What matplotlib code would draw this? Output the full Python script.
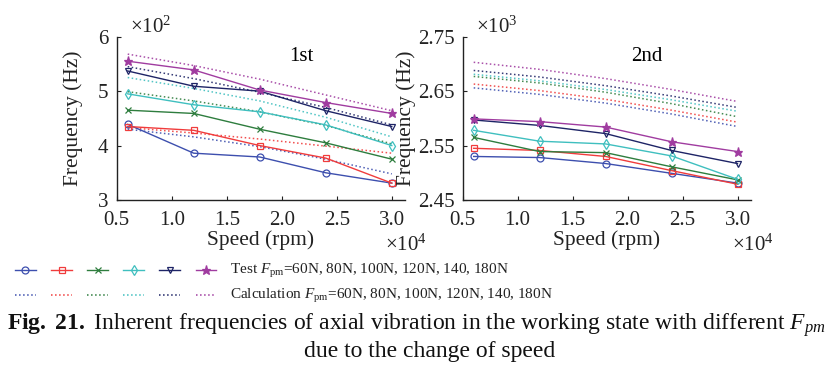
import matplotlib
matplotlib.use("Agg")
import matplotlib.pyplot as plt
from matplotlib.lines import Line2D

plt.rcParams['font.family'] = ['Liberation Serif', 'DejaVu Serif']
plt.rcParams['mathtext.fontset'] = 'custom'
plt.rcParams['mathtext.rm'] = 'Liberation Serif'
plt.rcParams['mathtext.it'] = 'Liberation Serif:italic'
plt.rcParams['mathtext.bf'] = 'Liberation Serif:bold'

# ---------------- data ----------------
speed = [0.6, 1.2, 1.8, 2.4, 3.0]          # x 10^4 rpm
forces = ['60N', '80N', '100N', '120N', '140', '180N']

# 1st frequency (x 10^2 Hz)
first_test_60 = [4.39, 3.86, 3.79, 3.50, 3.31]
first_test_80 = [4.35, 4.28, 4.00, 3.77, 3.31]
first_test_100 = [4.65, 4.59, 4.30, 4.05, 3.75]
first_test_120 = [4.95, 4.75, 4.62, 4.38, 4.00]
first_test_140 = [5.37, 5.09, 5.00, 4.64, 4.35]
first_test_180 = [5.55, 5.39, 5.02, 4.79, 4.59]

first_calc_60 = [4.30, 4.16, 3.98, 3.75, 3.48]
first_calc_80 = [4.33, 4.23, 4.12, 3.99, 3.86]
first_calc_100 = [4.99, 4.82, 4.62, 4.37, 4.03]
first_calc_120 = [5.25, 5.05, 4.82, 4.52, 4.16]
first_calc_140 = [5.45, 5.23, 4.98, 4.70, 4.38]
first_calc_180 = [5.68, 5.47, 5.22, 4.93, 4.64]

# 2nd frequency (x 10^3 Hz)
second_test_60 = [2.530, 2.528, 2.517, 2.499, 2.481]
second_test_80 = [2.545, 2.541, 2.530, 2.504, 2.479]
second_test_100 = [2.565, 2.539, 2.537, 2.511, 2.487]
second_test_120 = [2.578, 2.558, 2.553, 2.531, 2.488]
second_test_140 = [2.597, 2.587, 2.572, 2.541, 2.517]
second_test_180 = [2.599, 2.594, 2.584, 2.557, 2.539]

second_calc_60 = [2.656, 2.644, 2.628, 2.608, 2.585]
second_calc_80 = [2.663, 2.651, 2.635, 2.615, 2.593]
second_calc_100 = [2.677, 2.665, 2.648, 2.627, 2.603]
second_calc_120 = [2.681, 2.669, 2.653, 2.634, 2.613]
second_calc_140 = [2.688, 2.676, 2.660, 2.641, 2.620]
second_calc_180 = [2.703, 2.690, 2.673, 2.653, 2.631]

x_ticks = [0.5, 1.0, 1.5, 2.0, 2.5, 3.0]
x_ticklabels = ['0.5', '1.0', '1.5', '2.0', '2.5', '3.0']
y1_ticks = [3, 4, 5, 6]
y1_ticklabels = ['3', '4', '5', '6']
y2_ticks = [2.45, 2.55, 2.65, 2.75]
y2_ticklabels = ['2.45', '2.55', '2.65', '2.75']

colors = ['#3d4fae', '#f03c3c', '#2e7d3e', '#3fbfbf', '#1e2466', '#a03ca0']
markers = ['o', 's', 'x', 'd', 'v', '*']

first_test = [first_test_60, first_test_80, first_test_100, first_test_120, first_test_140, first_test_180]
first_calc = [first_calc_60, first_calc_80, first_calc_100, first_calc_120, first_calc_140, first_calc_180]
second_test = [second_test_60, second_test_80, second_test_100, second_test_120, second_test_140, second_test_180]
second_calc = [second_calc_60, second_calc_80, second_calc_100, second_calc_120, second_calc_140, second_calc_180]

W, H = 833, 373
fig = plt.figure(figsize=(W / 100, H / 100), dpi=100)


def px_axes(x0, x1, ytop, ybot):
    return fig.add_axes([x0 / W, 1 - ybot / H, (x1 - x0) / W, (ybot - ytop) / H])


ax1 = px_axes(116.7, 405, 36.7, 200)
ax2 = px_axes(462.7, 750.7, 36.7, 200)


def msize(m):
    return 6.5 if m == '*' else 5


def draw(ax, tests, calcs):
    for c, col in zip(calcs, colors):
        ax.plot(speed, c, linestyle=':', color=col, lw=1.1, alpha=0.9)
    for t, col, m in zip(tests, colors, markers):
        filled = m == '*'
        ax.plot(speed, t, linestyle='-', color=col, lw=1.0, marker=m,
                markersize=msize(m),
                markerfacecolor=col if filled else 'none',
                markeredgecolor=col, markeredgewidth=0.9)


draw(ax1, first_test, first_calc)
draw(ax2, second_test, second_calc)

for ax, yt, ytl, ylim in [(ax1, y1_ticks, y1_ticklabels, (3, 6)),
                          (ax2, y2_ticks, y2_ticklabels, (2.45, 2.75))]:
    ax.set_xlim(0.5, 3.12)
    ax.set_ylim(*ylim)
    ax.set_xticks(x_ticks)
    ax.set_xticklabels(x_ticklabels)
    ax.set_yticks(yt)
    ax.set_yticklabels(ytl)
    ax.spines['top'].set_visible(False)
    ax.spines['right'].set_visible(False)
    for s in ('left', 'bottom'):
        ax.spines[s].set_linewidth(1.0)
        ax.spines[s].set_color('#222222')
    ax.tick_params(direction='in', length=3, width=0.8, labelsize=15,
                   colors='#222222', labelcolor='#222222')
    ax.tick_params(axis='x', pad=8)
    ax.tick_params(axis='y', pad=6)
    ax.set_xlabel('Speed (rpm)', fontsize=15.5, labelpad=0, color='#222222')
    ax.patch.set_alpha(0)

ax1.set_ylabel('Frequency (Hz)', fontsize=15.5, labelpad=11, color='#222222')
ax2.set_ylabel('Frequency (Hz)', fontsize=15.5, labelpad=1, color='#222222')

ax1.text(0.64, 0.88, '1st', transform=ax1.transAxes, fontsize=15, ha='center', va='center')
ax2.text(0.64, 0.88, '2nd', transform=ax2.transAxes, fontsize=15, ha='center', va='center')

# exponent labels
fig.text(130 / W, 1 - 33 / H, r'$\times10^{2}$', fontsize=15, ha='left', va='baseline', color='#222222')
fig.text(476 / W, 1 - 33 / H, r'$\times10^{3}$', fontsize=15, ha='left', va='baseline', color='#222222')
fig.text(385 / W, 1 - 251 / H, r'$\times10^{4}$', fontsize=15, ha='left', va='baseline', color='#222222')
fig.text(732 / W, 1 - 251 / H, r'$\times10^{4}$', fontsize=15, ha='left', va='baseline', color='#222222')

# legend handles
test_handles = [Line2D([], [], color=col, lw=1.0, marker=m, markersize=msize(m),
                       markerfacecolor=col if m == '*' else 'none', markeredgecolor=col,
                       markeredgewidth=0.9)
                for col, m in zip(colors, markers)]
calc_handles = [Line2D([], [], color=col, lw=1.1, linestyle=':') for col in colors]

for handles, yc in [(test_handles, 271), (calc_handles, 296)]:
    leg = fig.legend(handles, [''] * 6, loc='center left', bbox_to_anchor=(15 / W, 1 - yc / H),
                     ncol=6, frameon=False, fontsize=10, handlelength=1.5, handletextpad=0.0,
                     columnspacing=1.1, borderpad=0, borderaxespad=0)

fig.text(230 / W, 1 - 271 / H, r'Test $F_{\rm pm}$=' + ', '.join(forces), fontsize=11,
         ha='left', va='center', color='#222222')
fig.text(230 / W, 1 - 296 / H, r'Calculation $F_{\rm pm}$=' + ', '.join(forces), fontsize=11,
         ha='left', va='center', color='#222222')

fig.text(416 / W, 1 - 325 / H,
         r'$\mathbf{Fig.\ 21.}$ Inherent frequencies of axial vibration in the working state with different $F_{pm}$',
         fontsize=17, ha='center', va='center', color='#111111')
fig.text(430 / W, 1 - 351 / H, 'due to the change of speed', fontsize=17,
         ha='center', va='center', color='#111111')

fig.savefig('out.png', dpi=100)
